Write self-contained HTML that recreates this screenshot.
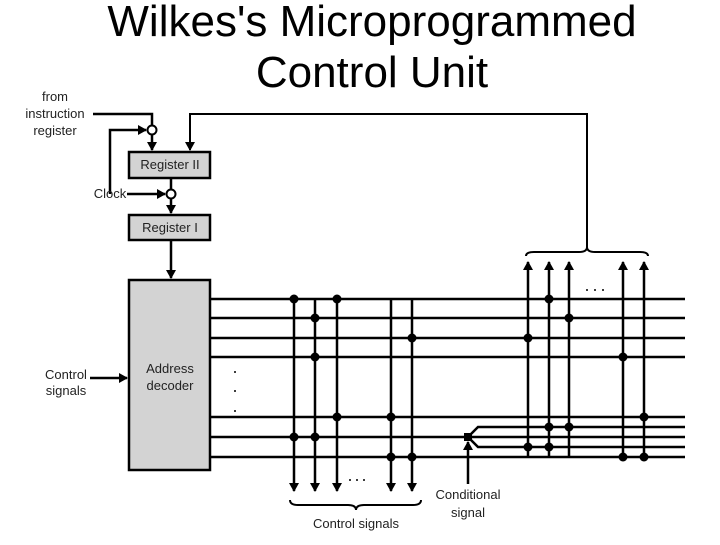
<!DOCTYPE html>
<html><head><style>body{margin:0;background:#fff}</style></head><body>
<svg width="720" height="540" viewBox="0 0 720 540" xmlns="http://www.w3.org/2000/svg" font-family="Liberation Sans, sans-serif">
<defs><marker id="a" markerWidth="9" markerHeight="10" refX="8" refY="5" orient="auto" markerUnits="userSpaceOnUse"><path d="M0,0 L9,5 L0,10 Z" fill="#000"/></marker></defs>
<text x="372" y="36" font-size="44" text-anchor="middle">Wilkes's Microprogrammed</text>
<text x="372" y="87" font-size="44" text-anchor="middle">Control Unit</text>
<g stroke="#000" stroke-width="2.5" fill="none">
<rect x="129" y="152" width="81" height="26" fill="#d3d3d3"/>
<rect x="129" y="215" width="81" height="25" fill="#d3d3d3"/>
<rect x="129" y="280" width="81" height="190" fill="#d3d3d3"/>
<polyline points="93,114 152,114 152,126"/>
<line x1="152" y1="134" x2="152" y2="150" marker-end="url(#a)"/>
<polyline points="110,194 110,130 146,130" marker-end="url(#a)"/>
<line x1="127" y1="194" x2="165" y2="194" marker-end="url(#a)"/>
<line x1="171" y1="178" x2="171" y2="190"/>
<line x1="171" y1="198" x2="171" y2="213" marker-end="url(#a)"/>
<polyline points="587,248 587,114 190,114 190,150" stroke-width="2" marker-end="url(#a)"/>
<line x1="171" y1="240" x2="171" y2="278" marker-end="url(#a)"/>
<line x1="90" y1="378" x2="127" y2="378" marker-end="url(#a)"/>
<line x1="210" y1="299" x2="685" y2="299"/><line x1="210" y1="318" x2="685" y2="318"/>
<line x1="210" y1="338" x2="685" y2="338"/><line x1="210" y1="357" x2="685" y2="357"/>
<line x1="210" y1="417" x2="685" y2="417"/><line x1="210" y1="437" x2="685" y2="437"/>
<line x1="210" y1="457" x2="685" y2="457"/>
<polyline points="468,437 478,427 685,427"/><polyline points="468,437 478,447 685,447"/>
<line x1="294" y1="299" x2="294" y2="491" marker-end="url(#a)"/>
<line x1="315" y1="299" x2="315" y2="491" marker-end="url(#a)"/>
<line x1="337" y1="299" x2="337" y2="491" marker-end="url(#a)"/>
<line x1="391" y1="299" x2="391" y2="491" marker-end="url(#a)"/>
<line x1="412" y1="299" x2="412" y2="491" marker-end="url(#a)"/>
<line x1="528" y1="457" x2="528" y2="262" marker-end="url(#a)"/>
<line x1="549" y1="457" x2="549" y2="262" marker-end="url(#a)"/>
<line x1="569" y1="457" x2="569" y2="262" marker-end="url(#a)"/>
<line x1="623" y1="457" x2="623" y2="262" marker-end="url(#a)"/>
<line x1="644" y1="457" x2="644" y2="262" marker-end="url(#a)"/>
<line x1="468" y1="484" x2="468" y2="442" marker-end="url(#a)"/>
<path d="M526,256 q0,-4 8,-4 h45 q8,0 8,-5 q0,5 8,5 h45 q8,0 8,4" stroke-width="2"/>
<path d="M290,500 q0,5 8,5 h50 q8,0 8,5 q0,-5 8,-5 h49 q8,0 8,-5" stroke-width="2"/>
</g>
<g font-size="13" fill="#222" text-anchor="middle">
<text x="55" y="101">from</text><text x="55" y="118">instruction</text><text x="55" y="135">register</text>
<text x="110" y="198">Clock</text>
<text x="66" y="379">Control</text><text x="66" y="395">signals</text>
<text x="170" y="373">Address</text><text x="170" y="390">decoder</text>
<text x="170" y="169">Register II</text><text x="170" y="232">Register I</text>
<text x="468" y="499">Conditional</text><text x="468" y="517">signal</text>
<text x="356" y="528">Control signals</text>
</g>
<circle cx="152" cy="130" r="4.5" fill="#fff" stroke="#000" stroke-width="2"/>
<circle cx="171" cy="194" r="4.5" fill="#fff" stroke="#000" stroke-width="2"/>
<rect x="464" y="433" width="8" height="8" fill="#000"/>
<g fill="#000">
<circle cx="294" cy="299" r="4.5"/><circle cx="294" cy="437" r="4.5"/>
<circle cx="315" cy="318" r="4.5"/><circle cx="315" cy="357" r="4.5"/><circle cx="315" cy="437" r="4.5"/>
<circle cx="337" cy="299" r="4.5"/><circle cx="337" cy="417" r="4.5"/>
<circle cx="391" cy="417" r="4.5"/><circle cx="391" cy="457" r="4.5"/>
<circle cx="412" cy="338" r="4.5"/><circle cx="412" cy="457" r="4.5"/>
<circle cx="528" cy="338" r="4.5"/><circle cx="528" cy="447" r="4.5"/>
<circle cx="549" cy="299" r="4.5"/><circle cx="549" cy="427" r="4.5"/><circle cx="549" cy="447" r="4.5"/>
<circle cx="569" cy="318" r="4.5"/><circle cx="569" cy="427" r="4.5"/>
<circle cx="623" cy="357" r="4.5"/><circle cx="623" cy="457" r="4.5"/>
<circle cx="644" cy="417" r="4.5"/><circle cx="644" cy="457" r="4.5"/>
<circle cx="235" cy="372" r="1"/><circle cx="235" cy="391" r="1"/><circle cx="235" cy="411" r="1"/>
<circle cx="350" cy="480" r="1"/><circle cx="357" cy="480" r="1"/><circle cx="364" cy="480" r="1"/>
<circle cx="587" cy="290" r="1"/><circle cx="595" cy="290" r="1"/><circle cx="603" cy="290" r="1"/>
</g>
</svg>
</body></html>
